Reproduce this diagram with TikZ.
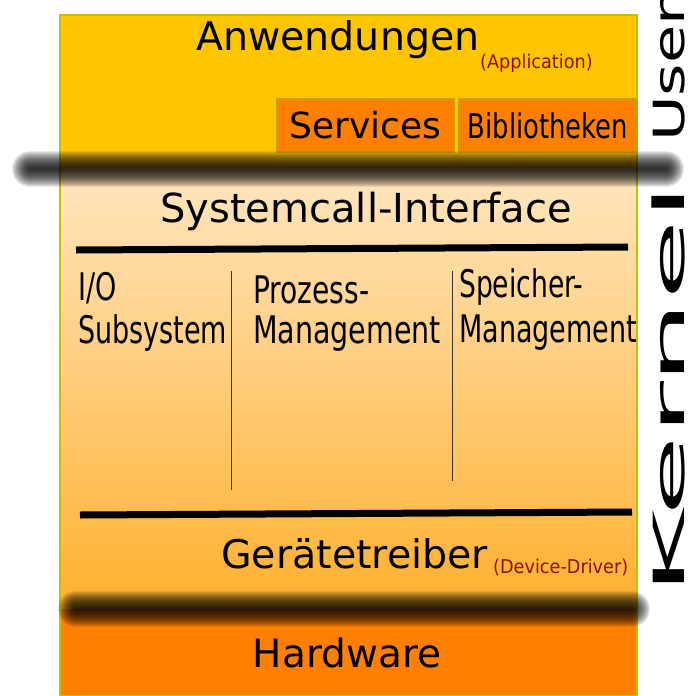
\documentclass[tikz,border=0pt]{standalone}
\usepackage{fontspec}
\setmainfont{DejaVu Sans}
\usetikzlibrary{positioning}
\definecolor{appgold}{HTML}{FFC600}
\definecolor{boxorange}{HTML}{FF8000}
\definecolor{rimolive}{HTML}{C8BE00}
\definecolor{boxrim}{HTML}{C8A000}
\definecolor{kerneltop}{HTML}{FFE6C0}
\definecolor{kernelbottom}{HTML}{FFB02E}
\definecolor{notered}{HTML}{8B1010}
\newcommand\fs[1]{\fontsize{#1}{#1}\selectfont}
\begin{document}
\begin{tikzpicture}[x=1pt,y=-1pt,
	txt/.style={inner sep=0pt, anchor=base},
	txtl/.style={inner sep=0pt, anchor=base west},
	layerbox/.style={draw=boxrim, fill=boxorange, line width=1.2pt, inner sep=0pt, minimum height=53pt},
	blur/.style={line cap=round, black, opacity=0.085}]
	\useasboundingbox (0,0) rectangle (694,696);
	\clip (0,0) rectangle (694,696);
	% layers
	\fill[appgold] (60,15) rectangle (637,168);
	\shade[top color=kerneltop, bottom color=kernelbottom] (60,168) rectangle (637,609);
	\fill[boxorange] (60,609) rectangle (637,696);
	\draw[rimolive, line width=1.5pt] (60,15) rectangle (637,696);
	% user space
	\node[txtl, font=\fs{39.5}] (apps) at (196,50) {Anwendungen};
	\node[txtl, font=\fs{19}, text=notered] (appsen) at (480,68) {\scalebox{0.93}[1]{(Application)}};
	\node[layerbox, minimum width=177pt, font=\fs{36}] (services) at (365.5,125.5) {Services};
	\node[layerbox, minimum width=178pt, font=\fs{34}] (libs) at (548,125.5) {\scalebox{0.76}[1]{Bibliotheken}};
	% borders user/kernel and kernel/hardware
	\foreach \w in {2,4,...,36}
		\draw[blur, line width=\w pt] (30,169) -- (666,169);
	\foreach \w in {2,4,...,36}
		\draw[blur, line width=\w pt] (76,609) -- (632,609);
	% kernel
	\node[txt, font=\fs{40}] (syscall) at (366,222) {Systemcall-Interface};
	\draw[line width=7pt] (76,250) -- (628,247);
	\node[txtl, font=\fs{38}] (io1) at (78,300) {\scalebox{0.71}[1]{I/O}};
	\node[txtl, font=\fs{38}] (io2) at (78,343) {\scalebox{0.71}[1]{Subsystem}};
	\draw[line width=1pt, black!80] (231,271) -- (231,490);
	\node[txtl, font=\fs{38}] (proc1) at (253,303) {\scalebox{0.74}[1]{Prozess-}};
	\node[txtl, font=\fs{38}] (proc2) at (253,343) {\scalebox{0.75}[1]{Management}};
	\draw[line width=1pt, black!80] (452,271) -- (452,481);
	\node[txtl, font=\fs{38}] (mem1) at (459,297) {\scalebox{0.70}[1]{Speicher-}};
	\node[txtl, font=\fs{38}] (mem2) at (459,342) {\scalebox{0.71}[1]{Management}};
	\draw[line width=7pt] (80,515) -- (632,512);
	\node[txtl, font=\fs{39.5}] (drivers) at (221,568) {Gerätetreiber};
	\node[txtl, font=\fs{19}, text=notered] (driversen) at (493,573) {\scalebox{0.93}[1]{(Device-Driver)}};
	% hardware
	\node[txt, font=\fs{39}] (hw) at (347,667) {Hardware};
	% side labels
	\node[txtl, rotate=90, font=\fs{43}] (kernel) at (684,596) {\scalebox{3.05}[1]{Kernel}};
	\node[txtl, rotate=90, font=\fs{43}] (user) at (684,142) {\scalebox{1.45}[1]{User}};
\end{tikzpicture}
\end{document}
